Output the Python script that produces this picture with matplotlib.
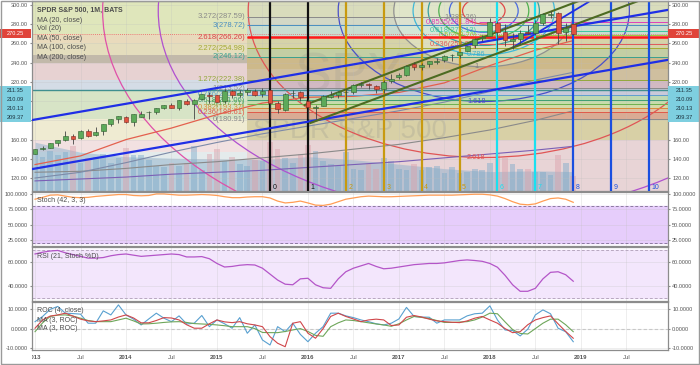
import matplotlib
matplotlib.use("Agg")
import matplotlib.pyplot as plt
from matplotlib.patches import Ellipse, Rectangle
import numpy as np

plt.rcParams['font.family'] = ['Liberation Sans', 'DejaVu Sans']

# ---------------- data (monthly, Jan 2013 .. Dec 2018) ----------------
opens = [145.1, 150.0, 151.1, 156.6, 159.3, 164.1, 161.2, 169.3, 164.8, 169.0, 176.0, 181.1,
         183.9, 178.6, 184.0, 188.3, 188.6, 192.6, 196.1, 193.1, 200.4, 197.2, 201.9, 206.4,
         206.4, 200.0, 211.0, 206.4, 209.4, 211.0, 207.1, 211.2, 198.1, 190.9, 208.4, 209.6,
         200.5, 192.5, 195.0, 204.4, 206.9, 209.1, 209.5, 217.2, 217.4, 215.8, 212.9, 220.7,
         225.0, 227.5, 238.4, 235.8, 238.7, 241.0, 242.9, 247.5, 247.9, 252.3, 258.0, 265.8,
         267.8, 281.1, 272.1, 262.6, 264.8, 272.4, 270.4, 281.6, 289.8, 291.2, 271.6, 280.3]
highs = [150.6, 153.3, 156.9, 159.7, 169.1, 165.6, 170.0, 170.9, 173.6, 176.7, 181.8, 184.7,
         184.1, 186.6, 189.7, 190.0, 193.0, 196.5, 198.3, 200.9, 201.9, 201.8, 207.4, 209.0,
         206.9, 212.2, 211.3, 212.0, 213.4, 212.3, 213.3, 211.6, 200.6, 208.0, 211.6, 210.7,
         201.9, 195.6, 206.9, 210.9, 210.7, 212.5, 217.5, 219.6, 219.2, 217.1, 221.8, 228.3,
         229.7, 237.3, 240.3, 239.5, 241.8, 245.0, 248.0, 248.9, 251.3, 257.8, 265.3, 268.6,
         286.6, 283.1, 280.4, 271.2, 274.3, 279.5, 284.4, 291.7, 293.9, 293.2, 281.2, 280.4]
lows = [144.7, 148.7, 151.0, 153.6, 158.9, 155.5, 160.9, 163.1, 163.7, 164.5, 174.5, 177.3,
        177.4, 173.7, 183.0, 181.3, 186.2, 192.3, 192.6, 190.5, 196.3, 181.9, 201.3, 197.9,
        198.6, 198.3, 203.3, 204.0, 206.5, 205.3, 204.1, 182.4, 187.4, 189.4, 203.7, 200.0,
        181.0, 181.1, 194.5, 203.1, 202.8, 198.7, 207.1, 214.3, 212.4, 208.4, 208.4, 219.2,
        222.7, 226.3, 232.5, 232.5, 235.4, 239.0, 240.9, 242.2, 244.9, 251.8, 255.6, 262.7,
        267.4, 252.9, 257.8, 254.7, 259.1, 269.4, 269.0, 279.2, 286.7, 259.9, 263.0, 268.9]
closes = [149.7, 151.6, 156.7, 159.7, 163.5, 160.4, 168.7, 163.7, 168.0, 175.8, 181.0, 184.7,
          178.2, 186.3, 187.0, 188.3, 192.7, 195.7, 193.1, 200.7, 197.0, 201.7, 207.2, 205.5,
          199.5, 210.7, 206.4, 208.5, 211.1, 205.9, 210.5, 197.7, 191.6, 207.9, 208.7, 203.9,
          193.7, 193.6, 205.5, 206.3, 209.8, 209.5, 217.1, 217.4, 216.3, 212.6, 220.4, 223.5,
          227.5, 236.5, 235.7, 238.1, 241.4, 241.8, 246.8, 247.5, 251.2, 257.2, 265.0, 266.9,
          281.9, 271.7, 263.2, 264.5, 270.9, 271.3, 281.3, 290.3, 290.7, 270.6, 275.7, 270.25]
volumes = [2600, 2300, 2700, 2400, 2600, 3000, 1900, 2200, 2300, 2500, 1900, 2200,
           2900, 2400, 2400, 2100, 1700, 1600, 1900, 1700, 1900, 3000, 1400, 2500,
           2800, 2000, 2300, 1800, 1700, 2100, 2000, 3300, 2800, 2200, 1900, 2500,
           3100, 2700, 2000, 1800, 1700, 2600, 1500, 1400, 1800, 1500, 2200, 2000,
           1500, 1400, 1800, 1400, 1600, 1700, 1200, 1600, 1200, 1300, 1500, 1400,
           1900, 2500, 2200, 1800, 1500, 1500, 1300, 1300, 1100, 2400, 1900, 1000]

# moving averages read at half-year points
ma_idx = [0, 6, 12, 18, 24, 30, 36, 42, 48, 54, 60, 66, 71]
ma20 = [134, 143, 160, 172, 186, 198, 204, 205, 209, 219, 237, 253, 263]
ma50 = [120, 126, 136, 147, 157, 166, 174, 182, 190, 199, 210, 222, 230]
ma100 = [126, 127, 130, 134, 137, 141, 145, 150, 155, 162, 170, 180, 190]
ma200 = [117, 119, 121, 124, 126, 128, 131, 134, 137, 141, 145, 149, 153]
vol_ma = [3270, 2600, 2300, 2200, 2150, 2100, 2300, 2100, 1800, 1500, 1300, 1350, 1300]

stoch = [91, 94, 97.5, 98, 96, 94, 93.5, 94, 95.5, 96.5, 97.5, 98.5,
         98.5, 97, 96.5, 97, 99.5, 99.5, 98.5, 97.5, 97.5, 98, 98.5, 98,
         97, 95, 93.5, 93.5, 94.5, 95, 95, 93, 88, 85, 86, 88,
         85, 81.5, 81, 83, 87, 91, 93, 95, 96, 95.5, 95, 95,
         95.5, 96, 96.5, 97, 97.5, 97.5, 97.5, 97.5, 98, 98.5, 99, 99,
         98, 96, 92, 87, 83, 82, 83.5, 88, 92, 93, 91, 86]
rsi = [67, 68.5, 69.5, 70, 68, 66.5, 65, 63.5, 63.5, 64, 65.5, 66.5,
       67, 66, 65, 65.5, 66, 66.5, 67, 66.5, 64.5, 64.5, 64.8, 63,
       59, 56, 56.5, 57.5, 58, 57.7, 55, 50, 45, 41.5, 41, 46,
       46.5, 41, 38.5, 38, 46, 52, 55, 57, 59, 56.5, 54.5, 55,
       56, 57, 58, 58.5, 59, 59, 59.5, 60.5, 61.5, 62, 61.5, 60.8,
       59, 55.8, 49, 41, 35.5, 35.5, 38, 46, 51.5, 52, 49.5, 44]
roc = [3.6, 6.3, 10, 11.5, 8, 7.8, 7.5, 2.8, 2.8, 9.2, 7.1, 12.3,
       7.1, 4.9, 1.9, 5, 8, 5.4, 3.6, 6.6, 2.4, 2.8, 6.8, 1,
       4.5, 2.5, 0.2, 5.7, -2.4, 1.9, -5.9, -8.5, 1, -1.6, 2.8, -3,
       -6.8, -2.4, 1, 8, 8, 6.6, 5.7, 4.5, 3.6, 2.5, 1.9, 2.8,
       5, 11, 6.3, 6, 5.9, 2.8, 4.5, 4.5, 4.5, 6.6, 7.7, 8,
       11.8, 4.5, -0.7, -1, -3.8, -0.3, 7.1, 9.7, 7.7, 0.2, -1.6, -6.8]
roc_ma_a = [0.2, 4.5, 6.5, 7.1, 8, 6.5, 4.9, 4, 3.6, 4, 4.5, 6,
            7.1, 5.5, 3, 3, 4.2, 5.7, 5.5, 4.5, 2, 0.2, 0.2, 2.5,
            4.5, 3.5, 3.1, 3.6, 2.5, 1.9, 1, -4.2, -7.6, -9.4, 2.8, 3.6,
            -2.4, -5, 0, 6.3, 8, 6.3, 5, 3.6, 4.5, 4.9, 4.5, 1.6,
            1.9, 5.9, 6.8, 6, 4.9, 4, 3.6, 3.3, 3.1, 4, 5.4, 6.3,
            4.5, 2.8, 0, -2.1, -1.6, 2, 4.5, 5.7, 6.6, 2.5, -1.5, -5]
roc_ma_b = [-1.6, 3, 6.3, 7, 7.1, 6.5, 5.4, 4.2, 3.6, 3.6, 3.6, 4.5,
            5.4, 4, 2.4, 2.5, 2.8, 3.2, 3.5, 3.6, 3.2, 2.6, 2.4, 2.2,
            1.9, 1.5, 1, 1, 1, 0, -2, -2.1, -2.1, -1.5, -0.7, 0,
            -1.5, -3.5, -4, 1, 3, 4.5, 4.2, 3.6, 3, 2.4, 1.9, 1.2,
            2.5, 4.5, 6.3, 5.8, 5.2, 4.2, 3.2, 3.2, 3.4, 3.6, 4.5, 6,
            8, 7.7, 3.5, -0.5, -2.5, -2.8, 0, 2.8, 4.9, 4.9, 2, -1.6]

x_tick_idx = list(range(0, 84, 6))
x_tick_labels = ['2013', 'Jul', '2014', 'Jul', '2015', 'Jul', '2016', 'Jul',
                 '2017', 'Jul', '2018', 'Jul', '2019', 'Jul']
price_ticks = list(range(120, 301, 20))
hidden_price_ticks = [180, 200]   # covered by the stacked labels

# fib retracement / extension (drawn from May 2015)
fib1_start = 28.0
fib1_levels = ['0', '0.236', '0.382', '0.5', '0.618', '0.786', '1', '1.272',
               '2', '2.272', '2.618', '3', '3.272']
fib1_prices = [180.91, 188.61, 193.37, 197.21, 201.06, 206.54, 213.52, 222.38,
               246.12, 254.98, 266.26, 278.72, 287.59]
fib2_start = 58.6
fib2_levels = ['0.236', '0.5', '0.618', '0.8535', '1']
fib2_prices = [258.99, 268.76, 273.13, 281.84, 287.26]

# background bands (price edges)
left_edges = [100, 147, 160, 180.91, 211.35, 222.38, 240, 248, 260, 270.25, 310]
right_edges = [100, 160, 180.91, 188.61, 193.37, 197.21, 201.06, 206.54, 213.52,
               222.38, 233.67, 246.12, 254.98, 266.26, 278.72, 287.59, 310]

# fib circles
circle_center = (59.2, 294.0)
circle_unit = (11.87, 58.3)
circle_levels = [0.236, 0.382, 0.5, 0.618, 0.786, 1, 1.618, 2.618, 3.618, 4.236]

# trend lines (month index, price)
channel_upper = [(-0.4, 180.3), (83.4, 294.8)]
channel_lower = [(-0.4, 129.3), (83.4, 242.8)]
steep_line = [(62.9, 255.3), (73.0, 303.1)]
green_upper = [(35.6, 196.0), (72.5, 306.5)]
green_lower = [(36.3, 177.2), (79.5, 304.0)]
cycle_idx = [31, 36, 41, 46, 51, 56, 61, 66, 71, 76, 81]

last_price = 270.25
hline_price = 211.35
side_labels = ['211.35', '210.09', '210.13', '209.37']

# ---------------- styles ----------------
left_colors = ['#e4ebec', '#f2e1e1', '#efebd2', '#d7e4c6', '#d4dce6', '#e7d2d2',
               '#c2b9aa', '#e4ddbd', '#e9dabc', '#dfe6bb']
right_colors = ['#e8d4d6', '#d8d0a6', '#d9ab94', '#dfc3a3', '#d3dbaa', '#c6dcab', '#bfd8b2',
                '#c9c9d9', '#d2b9c2', '#cfbf9f', '#cdb98a', '#c3cea4', '#d6d3a8', '#c9ddd0',
                '#d3d8c6', '#d9dcbc']
fib1_colors = ['#8a8a8a', '#e05a4a', '#d98c3a', '#6fb04f', '#3e9f72', '#5f9fcf', '#8a8a8a',
               '#93a83c', '#3aa08f', '#a5ab33', '#d94545', '#4a8fc0', '#8a8a8a']
fib2_colors = ['#e05a5a', '#9acb3c', '#3cc8a0', '#e040b8', '#8a8a8a']
circle_colors = ['#e04848', '#4a6ae0', '#50b050', '#3aa0a0', '#40b8d8', '#909090',
                 '#4a50c8', '#e05555', '#b050d0', '#e050a8']
cycle_colors = ['#111111'] * 2 + ['#c89a10'] * 4 + ['#19e0f0'] * 2 + ['#1a4fe0'] * 3

W, H = 700.0, 365.0
X0, X1 = 32, 668
XMIN, XMAX = -0.4, 83.5
TXT = '#4d4d4d'

fig = plt.figure(figsize=(7.0, 3.65), dpi=100)
fig.patch.set_facecolor('white')


def axes_px(y0, y1, z=1):
    a = fig.add_axes([X0 / W, 1 - y1 / H, (X1 - X0) / W, (y1 - y0) / H], zorder=z)
    a.set_xlim(XMIN, XMAX)
    return a


def style_panel(a, yticks, fmt, hidden=()):
    a.patch.set_visible(False)
    for s in a.spines.values():
        s.set_color('#8c8c8c')
        s.set_linewidth(0.9)
    a.set_xticks(x_tick_idx)
    a.set_yticks(yticks)
    a.set_yticklabels(['' if v in hidden else fmt % v for v in yticks])
    a.tick_params(axis='x', length=0, labelbottom=False)
    a.tick_params(axis='y', left=True, right=True, labelleft=True, labelright=True,
                  labelsize=4.0, labelcolor='#555555', color='#8c8c8c', length=1.5, pad=1.5)
    a.grid(True, color='#bdbdbd', alpha=0.35, lw=0.5)


idx = np.arange(len(closes))
o, h, l, c = (np.array(v, dtype=float) for v in (opens, highs, lows, closes))
up = c >= o

# ---------------- main panel ----------------
PMIN, PMAX = 106.5, 304.2
ax_bg = axes_px(1, 191, z=0)
ax_bg.set_ylim(PMIN, PMAX)
ax_bg.axis('off')
for lo, hi, col in zip(left_edges[:-1], left_edges[1:], left_colors):
    ax_bg.add_patch(Rectangle((XMIN, lo), fib1_start - XMIN, hi - lo, fc=col, ec='none'))
for lo, hi, col in zip(right_edges[:-1], right_edges[1:], right_colors):
    ax_bg.add_patch(Rectangle((fib1_start, lo), XMAX - fib1_start, hi - lo, fc=col, ec='none'))
ax_bg.text(350 / W, 1 - 78 / H, 'SPY', transform=fig.transFigure, ha='center', va='center',
           fontsize=40, color='#8a8a8a', alpha=0.18)
ax_bg.text(350 / W, 1 - 131 / H, 'SPDR S&P 500', transform=fig.transFigure, ha='center',
           va='center', fontsize=20, color='#8a8a8a', alpha=0.22)

ax_vol = axes_px(1, 191, z=1)
ax_vol.set_ylim(0, 12733)
ax_vol.axis('off')
ax_vol.fill_between(ma_idx, 0, vol_ma, color='#8db0cc', alpha=0.5, lw=0)
ax_vol.bar(idx, volumes, width=0.75, color=np.where(up, '#7aa9c9', '#dba0aa'), alpha=0.45, lw=0)

ax = axes_px(1, 191, z=2)
ax.set_ylim(PMIN, PMAX)
style_panel(ax, price_ticks, '%.2f', hidden_price_ticks)

cx, cy = circle_center
for lev, col in zip(circle_levels, circle_colors):
    ax.add_patch(Ellipse((cx, cy), 2 * circle_unit[0] * lev, 2 * circle_unit[1] * lev,
                         fill=False, ec=col, lw=0.9, zorder=2))
ax.add_patch(Ellipse((cx, cy), 2 * circle_unit[0], 2 * circle_unit[1], fc='#eef7e4',
                     ec='none', alpha=0.35, zorder=1.9))
for lev, lab, col in [(0.786, '0.786', '#40b0d0'), (1, '1', '#808080'),
                      (1.618, '1.618', '#4a50c8'), (2.618, '2.618', '#e05555')]:
    ax.text(cx - 1.0, cy - circle_unit[1] * lev, lab, color=col, fontsize=5.3,
            ha='center', va='center', zorder=3)

ax.plot(ma_idx, ma200, color='#7b5fb5', lw=0.8, zorder=2)
ax.plot(ma_idx, ma100, color='#8a8a8a', lw=0.8, zorder=2)
ax.plot(ma_idx, ma50, color='#7d8aa8', lw=0.8, zorder=2)
ax.plot(ma_idx, ma20, color='#e4604e', lw=0.9, zorder=2)

for lev, p, col in zip(fib1_levels, fib1_prices, fib1_colors):
    ax.hlines(p, fib1_start, XMAX, color=col, lw=0.7, zorder=2)
    ax.text(fib1_start - 0.3, p, '%s(%.2f)' % (lev, p), color=col, fontsize=5.5,
            ha='right', va='center', zorder=3)
for lev, p, col in zip(fib2_levels, fib2_prices, fib2_colors):
    ax.hlines(p, fib2_start, XMAX, color=col, lw=0.7, zorder=2)
    ax.text(fib2_start - 0.3, p, '%s(%.2f)' % (lev, p), color=col, fontsize=5.4,
            ha='right', va='center', zorder=3)

ax.hlines(266.26, fib1_start, XMAX, color='#ff1a1a', lw=1.8, zorder=3)
ax.axhline(last_price, color='#e86060', lw=0.6, ls=(0, (1, 1.5)), zorder=2)
ax.axhline(hline_price, color='#3f8f8f', lw=1.0, zorder=2)

for k, (x, col) in enumerate(zip(cycle_idx, cycle_colors)):
    ax.axvline(x, color=col, lw=1.6, zorder=3)
    ax.text(x + 0.35, 110.5, str(k), color=col, fontsize=5, ha='left', va='center', zorder=3)

for line, col, lw in [(channel_upper, '#1f2fe6', 1.6), (channel_lower, '#1f2fe6', 1.6),
                      (steep_line, '#1f2fe6', 1.3), (green_upper, '#4d6b22', 1.5),
                      (green_lower, '#4d6b22', 1.5)]:
    xs, ys = zip(*line)
    ax.plot(xs, ys, color=col, lw=lw, zorder=3.5)

ax.vlines(idx, l, h, color='#444444', lw=0.6, zorder=4)
ax.bar(idx[up], (c - o)[up], bottom=o[up], width=0.64, color='#5daa5a',
       edgecolor='#2e5e2e', lw=0.4, zorder=5)
ax.bar(idx[~up], (o - c)[~up], bottom=c[~up], width=0.64, color='#e0523f',
       edgecolor='#7a2a20', lw=0.4, zorder=5)

legend = [('SPDR S&P 500, 1M, BATS', 10.7, 'bold'), ('MA (20, close)', 20, 'normal'),
          ('Vol (20)', 29, 'normal'), ('MA (50, close)', 38.7, 'normal'),
          ('MA (100, close)', 47.7, 'normal'), ('MA (200, close)', 57.3, 'normal')]
for txt, y, wt in legend:
    fig.text(37 / W, 1 - y / H, txt, fontsize=5.0, color=TXT, fontweight=wt,
             ha='left', va='center', zorder=8)

# ---------------- stochastic ----------------
ax_s = axes_px(192, 246, z=2)
ax_s.set_ylim(15.7, 102.6)
style_panel(ax_s, [25, 50, 75, 100], '%.4f')
ax_s.axhspan(20, 80, color='#e6cdfb', zorder=0.5)
for v in (20, 80):
    ax_s.axhline(v, color='#8c7aa0', lw=0.7, ls=(0, (3, 2)))
ax_s.plot(idx, stoch, color='#ff9d55', lw=0.9)
fig.text(37 / W, 1 - 200.7 / H, 'Stoch (42, 3, 3)', fontsize=5.0, color=TXT, va='center')

# ---------------- RSI ----------------
ax_r = axes_px(247, 301, z=2)
ax_r.set_ylim(27.3, 72.9)
style_panel(ax_r, [40, 60], '%.4f')
ax_r.axhspan(30, 70, color='#f3e6fc', zorder=0.5)
for v in (30, 70):
    ax_r.axhline(v, color='#b8a8c0', lw=0.7, ls=(0, (3, 2)))
ax_r.plot(idx, rsi, color='#b455c8', lw=0.9)
fig.text(37 / W, 1 - 256.7 / H, 'RSI (21, Stoch %D)', fontsize=5.0, color=TXT, va='center')

# ---------------- ROC ----------------
ax_c = axes_px(302, 350, z=2)
ax_c.set_ylim(-11.1, 13.8)
style_panel(ax_c, [-10, 0, 10], '%.4f')
ax_c.axhline(0, color='#c8c8c8', lw=0.8, ls=(0, (3, 2)))
ax_c.plot(idx, roc, color='#58a0d0', lw=0.8)
ax_c.plot(idx, roc_ma_b, color='#6ea65a', lw=0.8)
ax_c.plot(idx, roc_ma_a, color='#d0464a', lw=0.8)
for txt, y in [('ROC (4, close)', 310.7), ('MA (3, ROC)', 320), ('MA (3, ROC)', 329)]:
    fig.text(37 / W, 1 - y / H, txt, fontsize=5.0, color=TXT, va='center')

# ---------------- time axis ----------------
ax_x = axes_px(350, 363, z=2)
ax_x.set_ylim(0, 1)
ax_x.axis('off')
for x, lab in zip(x_tick_idx, x_tick_labels):
    ax_x.text(x, 0.45, lab, ha='center', va='center', fontsize=4.3, color='#555555',
              fontweight='bold' if lab != 'Jul' else 'normal', clip_on=True)


# ---------------- price labels on both scales ----------------
def y_from_top(price):
    return H - ax.transData.transform((0, price))[1]


def side_box(y, text, face, tcolor):
    for xa, xb in ((0, 31), (668, 700)):
        fig.add_artist(Rectangle((xa / W, 1 - (y + 4.6) / H), (xb - xa) / W, 9.2 / H,
                                 transform=fig.transFigure, fc=face, ec='none', zorder=9))
        fig.text((xa + xb) / 2 / W, 1 - y / H, text, ha='center', va='center',
                 fontsize=4.1, color=tcolor, zorder=10)


side_box(y_from_top(last_price), '%.2f' % last_price, '#e0443a', 'white')
y0 = y_from_top(hline_price)
for k, lab in enumerate(side_labels):
    side_box(y0 + 9.2 * k, lab, '#7ecfe0', '#1d3440')

fig.add_artist(Rectangle((0.001, 0.002), 0.998, 0.996, transform=fig.transFigure,
                         fill=False, ec='#9a9a9a', lw=1.0, zorder=11))

fig.savefig('out.png', dpi=100)
